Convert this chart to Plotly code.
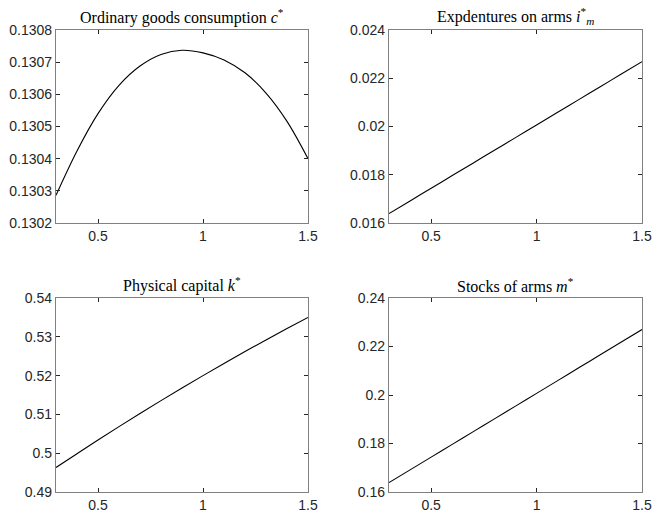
import plotly.graph_objects as go

# x grid (parameter)
x_vals = [0.3, 0.4, 0.5, 0.6, 0.7, 0.8, 0.9, 1.0, 1.1, 1.2, 1.3, 1.4, 1.5]

c_star = [0.130286, 0.130424, 0.130540, 0.130628, 0.130688, 0.130724, 0.130737,
          0.130729, 0.130707, 0.130667, 0.130604, 0.130516, 0.130400]
i_m_star = [0.01639, 0.016915, 0.01744, 0.017965, 0.01849, 0.019015, 0.01954,
            0.020065, 0.02059, 0.021115, 0.02164, 0.022165, 0.02269]
k_star = [0.49631, 0.49988, 0.50340, 0.50685, 0.51023, 0.51355, 0.51681,
          0.52000, 0.52313, 0.52619, 0.52919, 0.53213, 0.53500]
m_star = [0.16386, 0.16912, 0.17438, 0.17964, 0.18490, 0.19016, 0.19542,
          0.20068, 0.20594, 0.21120, 0.21646, 0.22172, 0.22700]

titles = ["Ordinary goods consumption <i>c</i><sup>*</sup>",
          "Expdentures on arms <i>i</i><sup>*</sup><sub><i>m</i></sub>",
          "Physical capital <i>k</i><sup>*</sup>",
          "Stocks of arms <i>m</i><sup>*</sup>"]

x_ticks = [0.5, 1, 1.5]
x_ticktext = ["0.5", "1", "1.5"]
y_ticks = [
    [0.1302, 0.1303, 0.1304, 0.1305, 0.1306, 0.1307, 0.1308],
    [0.016, 0.018, 0.02, 0.022, 0.024],
    [0.49, 0.50, 0.51, 0.52, 0.53, 0.54],
    [0.16, 0.18, 0.20, 0.22, 0.24],
]
y_ticktext = [
    ["0.1302", "0.1303", "0.1304", "0.1305", "0.1306", "0.1307", "0.1308"],
    ["0.016", "0.018", "0.02", "0.022", "0.024"],
    ["0.49", "0.5", "0.51", "0.52", "0.53", "0.54"],
    ["0.16", "0.18", "0.2", "0.22", "0.24"],
]
series = [c_star, i_m_star, k_star, m_star]

W, H = 654, 516
# pixel boxes: (left, right, top, bottom)
boxes = [(56, 308, 30, 223), (389, 642, 30, 223),
         (56, 308, 298, 492), (389, 642, 298, 492)]

fig = go.Figure()
axis_color = "#808080"
tick_font = dict(family="Liberation Sans, Arial, sans-serif", size=14, color="#262626")

for i, (ys, box) in enumerate(zip(series, boxes)):
    n = "" if i == 0 else str(i + 1)
    fig.add_trace(go.Scatter(x=x_vals, y=ys, mode="lines", line=dict(color="black", width=1.1, shape="spline"),
                             xaxis="x" + n, yaxis="y" + n, showlegend=False, hoverinfo="skip"))
    l, r, t, b = box
    xd = [l / W, r / W]
    yd = [1 - b / H, 1 - t / H]
    common = dict(showline=True, linecolor=axis_color, linewidth=1.3, mirror="allticks",
                  ticks="inside", ticklen=4, tickcolor="#262626", tickwidth=1, automargin=False,
                  showgrid=False, zeroline=False, tickfont=tick_font)
    fig.update_layout(**{
        "xaxis" + n: dict(domain=xd, range=[0.3, 1.5], tickvals=x_ticks, ticktext=x_ticktext,
                          anchor="y" + n, **common),
        "yaxis" + n: dict(domain=yd, range=[y_ticks[i][0], y_ticks[i][-1]], tickvals=y_ticks[i],
                          ticktext=y_ticktext[i], anchor="x" + n, **common),
    })
    fig.add_annotation(text=titles[i], xref="paper", yref="paper", x=(l + r) / 2 / W, y=1 - (t - 1) / H,
                       xanchor="center", yanchor="bottom", showarrow=False,
                       font=dict(family="Liberation Serif, Times New Roman, serif", size=16, color="black"))

fig.update_layout(template="none", width=W, height=H, margin=dict(l=0, r=0, t=0, b=0),
                  paper_bgcolor="white", plot_bgcolor="white")
fig.write_html("out.html", config={"displayModeBar": False},
               post_script="document.body.style.margin='0';document.body.style.overflow='hidden';")
